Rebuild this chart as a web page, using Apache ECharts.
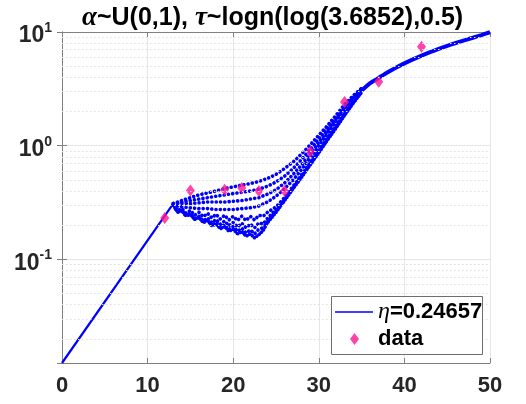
<!DOCTYPE html>
<html>
<head>
<meta charset="utf-8">
<script src="https://cdn.jsdelivr.net/npm/echarts@6/dist/echarts.min.js"></script>
<style>
  html, body { margin: 0; padding: 0; background: #fff; }
  #chart { width: 526px; height: 404px; }
</style>
</head>
<body>
<div id="chart"></div>
<script>
// initial exponential ramp
var xRamp = [0, 13];
var yRamp = [0.0123, 0.31];

// upper fan of curves (integer steps)
var xFan = [13, 14, 15, 16, 17, 18, 19, 20, 21, 22, 23, 24, 25, 26, 27, 28, 29, 30, 31, 32, 33, 34, 35];
var fanA = [0.31, 0.33, 0.35, 0.37, 0.385, 0.40, 0.42, 0.435, 0.45, 0.465, 0.485, 0.515, 0.56, 0.63, 0.72, 0.85, 1.02, 1.24, 1.5, 1.85, 2.3, 2.75, 3.2];
var fanB = [0.31, 0.32, 0.33, 0.34, 0.35, 0.36, 0.37, 0.38, 0.39, 0.40, 0.415, 0.44, 0.48, 0.54, 0.63, 0.76, 0.93, 1.15, 1.42, 1.78, 2.22, 2.7, 3.18];
var fanC = [0.31, 0.31, 0.31, 0.315, 0.32, 0.32, 0.32, 0.325, 0.33, 0.34, 0.35, 0.375, 0.41, 0.47, 0.56, 0.68, 0.85, 1.07, 1.35, 1.72, 2.17, 2.67, 3.15];
var fanD = [0.30, 0.29, 0.285, 0.28, 0.28, 0.275, 0.275, 0.275, 0.28, 0.285, 0.295, 0.32, 0.36, 0.42, 0.5, 0.62, 0.78, 1.0, 1.28, 1.65, 2.1, 2.62, 3.12];

// lower, wavy curves (half steps up to 24)
var xWave = [13, 13.5, 14, 14.5, 15, 15.5, 16, 16.5, 17, 17.5, 18, 18.5, 19, 19.5, 20, 20.5, 21, 21.5, 22, 22.5, 23, 23.5, 24,
             25, 26, 27, 28, 29, 30, 31, 32, 33, 34, 35];
var fanE = [0.30, 0.27, 0.28, 0.255, 0.27, 0.245, 0.26, 0.237, 0.255, 0.232, 0.25, 0.227, 0.245, 0.222, 0.24, 0.22, 0.24, 0.22, 0.24, 0.222, 0.245, 0.24, 0.26,
            0.29, 0.35, 0.44, 0.56, 0.71, 0.91, 1.17, 1.5, 1.92, 2.42, 2.98];
var fanF = [0.30, 0.265, 0.27, 0.245, 0.255, 0.23, 0.24, 0.218, 0.232, 0.21, 0.225, 0.204, 0.218, 0.198, 0.212, 0.193, 0.208, 0.19, 0.205, 0.19, 0.21, 0.205, 0.23,
            0.275, 0.34, 0.43, 0.55, 0.7, 0.89, 1.15, 1.47, 1.89, 2.4, 2.97];
var fanG = [0.30, 0.26, 0.265, 0.24, 0.25, 0.225, 0.235, 0.212, 0.222, 0.2, 0.212, 0.192, 0.203, 0.184, 0.195, 0.177, 0.188, 0.171, 0.182, 0.168, 0.185, 0.19, 0.215,
            0.265, 0.335, 0.425, 0.54, 0.69, 0.88, 1.13, 1.45, 1.87, 2.38, 2.96];
var fanH = [0.30, 0.262, 0.27, 0.243, 0.25, 0.225, 0.235, 0.212, 0.22, 0.198, 0.205, 0.186, 0.195, 0.177, 0.185, 0.168, 0.176, 0.16, 0.168, 0.155, 0.165, 0.18, 0.21,
            0.26, 0.33, 0.42, 0.53, 0.68, 0.87, 1.12, 1.43, 1.85, 2.36, 2.95];

// merged tail
var xTail = [35, 36, 37, 38, 39, 40, 41, 42, 43, 44, 45, 46, 47, 48, 49, 50];
var yTail = [3.05, 3.55, 3.95, 4.4, 4.85, 5.3, 5.75, 6.2, 6.65, 7.1, 7.55, 8.0, 8.45, 8.9, 9.4, 9.95];

// observed data
var xData = [12, 15, 19, 21, 23, 26, 29, 33, 37, 42];
var yData = [0.232, 0.405, 0.41, 0.425, 0.40, 0.40, 0.89, 2.43, 3.66, 7.43];

// minor log grid
var yMinor = [0.02, 0.03, 0.04, 0.05, 0.06, 0.07, 0.08, 0.09,
              0.2, 0.3, 0.4, 0.5, 0.6, 0.7, 0.8, 0.9,
              2, 3, 4, 5, 6, 7, 8, 9];

var BLUE = '#0000ff';
var FONT = 'Liberation Sans';

function zip(xs, ys) {
    var out = [];
    for (var i = 0; i < xs.length; i++) out.push([xs[i], ys[i]]);
    return out;
}

function fanSeries(name, xs, ys, gap) {
    return {
        name: name, type: 'line', data: zip(xs, ys), symbol: 'none',
        lineStyle: { color: BLUE, width: 3.6, type: [0.1, gap || 4.2], cap: 'round' },
        itemStyle: { color: BLUE }, z: 3
    };
}

var chart = echarts.init(document.getElementById('chart'));

var option = {
    animation: false,
    title: {
        left: 77, top: 0,
        text: '{g|α}{b|~U(0,1), }{g|τ}{b|~logn(log(3.6852),0.5)}',
        textStyle: {
            rich: {
                b: { fontFamily: FONT, fontWeight: 'bold', fontSize: 25, color: '#000' },
                g: { fontFamily: 'Liberation Serif', fontStyle: 'italic', fontSize: 27, color: '#000' }
            }
        }
    },
    grid: { left: 62, right: 36, top: 32, bottom: 41 },
    xAxis: [{
        type: 'value', min: 0, max: 50, interval: 10,
        axisLine: { lineStyle: { color: '#808080' } },
        axisTick: { inside: true, length: 5, lineStyle: { color: '#808080' } },
        axisLabel: { fontFamily: FONT, fontWeight: 'bold', fontSize: 22, color: '#262626', margin: 12 },
        splitLine: { show: true, lineStyle: { color: '#e6e6e6' } }
    }, {
        type: 'value', min: 0, max: 50, interval: 10, position: 'top',
        axisLine: { lineStyle: { color: '#808080' } },
        axisTick: { inside: true, length: 5, lineStyle: { color: '#808080' } },
        axisLabel: { show: false }, splitLine: { show: false }
    }],
    yAxis: [{
        type: 'log', logBase: 10, min: 0.0123, max: 10,
        axisLine: { show: true, lineStyle: { color: '#808080' } },
        axisTick: { inside: true, length: 5, lineStyle: { color: '#808080' } },
        axisLabel: {
            margin: 10,
            formatter: function (v) {
                var l = Math.log10(v), e = Math.round(l);
                if (Math.abs(l - e) > 1e-6) return '';
                return '{b|10}{s|' + e + '}';
            },
            rich: {
                b: { fontFamily: FONT, fontWeight: 'bold', fontSize: 23, color: '#262626', padding: [8, 0, 0, 0] },
                s: { fontFamily: FONT, fontWeight: 'bold', fontSize: 14, color: '#262626', padding: [0, 0, 8, 0] }
            }
        },
        splitLine: { show: true, lineStyle: { color: '#e6e6e6' } }
    }, {
        type: 'log', logBase: 10, min: 0.0123, max: 10, position: 'right',
        axisLine: { show: true, lineStyle: { color: '#808080' } },
        axisTick: { inside: true, length: 5, lineStyle: { color: '#808080' } },
        axisLabel: { show: false }, splitLine: { show: false }
    }],
    legend: [{
        left: 335, top: 300, padding: 0, z: 20, selectedMode: false,
        itemWidth: 38, itemHeight: 1.5, itemGap: 0,
        data: [{ name: 'η=0.24657', icon: 'rect' }],
        formatter: function () { return '{i|η}{b|=0.24657}'; },
        textStyle: {
            rich: {
                i: { fontFamily: 'Liberation Serif', fontStyle: 'italic', fontSize: 24, color: '#000' },
                b: { fontFamily: FONT, fontWeight: 'bold', fontSize: 22, color: '#000' }
            }
        }
    }, {
        left: 350, top: 328, padding: 0, z: 20, selectedMode: false,
        itemWidth: 9, itemHeight: 12,
        data: [{ name: 'data', icon: 'diamond' }],
        textStyle: { fontFamily: FONT, fontWeight: 'bold', fontSize: 22, color: '#000', padding: [0, 0, 0, 14] }
    }],
    graphic: [{
        type: 'rect', z: 15,
        shape: { x: 331.5, y: 296.5, width: 151, height: 58 },
        style: { fill: '#fff', stroke: '#6e6e6e', lineWidth: 1 }
    }],
    series: [
        {
            name: 'grid', type: 'line', data: [], silent: true, z: 1,
            markLine: {
                silent: true, symbol: 'none', label: { show: false },
                lineStyle: { color: '#dedede', type: [1.5, 2.5], width: 1 },
                data: yMinor.map(function (v) { return { yAxis: v }; })
            }
        },
        {
            name: 'η=0.24657', type: 'line', data: zip(xRamp, yRamp), symbol: 'none',
            lineStyle: { color: BLUE, width: 2.2 }, itemStyle: { color: BLUE }, z: 3
        },
        fanSeries('a', xFan, fanA),
        fanSeries('b', xFan, fanB),
        fanSeries('c', xFan, fanC),
        fanSeries('d', xFan, fanD),
        fanSeries('e', xWave, fanE),
        fanSeries('f', xWave, fanF),
        fanSeries('g', xWave, fanG),
        fanSeries('h', xWave, fanH, 3),
        {
            name: 'tail', type: 'line', data: zip(xTail, yTail), symbol: 'none', smooth: 0.2,
            lineStyle: { color: BLUE, width: 4 }, z: 3
        },
        {
            name: 'data', type: 'scatter', data: zip(xData, yData),
            symbol: 'diamond', symbolSize: [9, 12],
            itemStyle: { color: '#ff1493' }, z: 4
        }
    ]
};

chart.setOption(option);
</script>
</body>
</html>
